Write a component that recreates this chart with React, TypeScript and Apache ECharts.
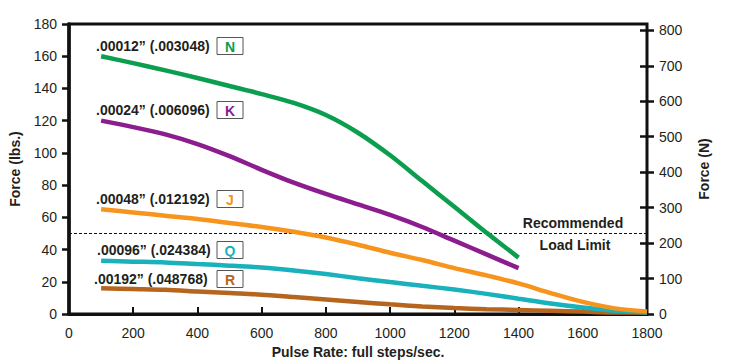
import React, { useEffect, useRef } from "react";
import * as echarts from "echarts";

const xTicks = [0, 200, 400, 600, 800, 1000, 1200, 1400, 1600, 1800];
const rightTicks = [0, 100, 200, 300, 400, 500, 600, 700, 800];

const pulseN = [100, 200, 300, 400, 500, 600, 700, 800, 900, 1000, 1100, 1200, 1300, 1400];
const forceN = [160, 155.7, 151.2, 146.5, 141.5, 136.5, 131, 123.5, 112.5, 98.5, 82.5, 66.5, 50.5, 35];

const pulseK = [100, 200, 300, 400, 500, 600, 700, 800, 900, 1000, 1100, 1200, 1300, 1400];
const forceK = [120, 116, 111.5, 105.5, 98, 89.5, 81.5, 74.5, 68, 61.5, 54, 45.5, 37, 28.5];

const pulseJ = [100, 200, 300, 400, 500, 600, 700, 800, 900, 1000, 1100, 1200, 1300, 1400, 1500, 1600, 1700, 1800];
const forceJ = [65, 63, 61, 59, 56.5, 54, 51, 47.5, 43, 38, 33.5, 28.5, 24, 19, 13, 7.5, 3.5, 1.5];

const pulseQ = [100, 200, 300, 400, 500, 600, 700, 800, 900, 1000, 1100, 1200, 1300, 1400, 1500, 1600, 1700, 1800];
const forceQ = [33, 32.5, 32, 31, 30, 28.8, 27, 24.8, 22.2, 19.8, 17.5, 15.2, 12.5, 9.5, 6.5, 4, 2, 1];

const pulseR = [100, 200, 300, 400, 500, 600, 700, 800, 900, 1000, 1100, 1200, 1300, 1400, 1500, 1600, 1700, 1800];
const forceR = [16, 15.5, 15, 14, 13, 12, 10.5, 9, 7.5, 6, 4.7, 3.7, 3, 2.5, 2, 1.5, 1, 1];

const loadLimit = 50;

const curveLabels = [
  { text: ".00012\u201D (.003048)", letter: "N", color: "#0b9e4f", y: 46, x: 96 },
  { text: ".00024\u201D (.006096)", letter: "K", color: "#8c1d8e", y: 110, x: 96 },
  { text: ".00048\u201D (.012192)", letter: "J", color: "#f5921e", y: 199, x: 96 },
  { text: ".00096\u201D (.024384)", letter: "Q", color: "#19b1bb", y: 250, x: 97 },
  { text: ".00192\u201D (.048768)", letter: "R", color: "#b5651d", y: 279, x: 94 },
];

const TXT = "#231f20";
const FONT = "'Liberation Sans', Arial, Helvetica, sans-serif";

function zip(xs: number[], ys: number[]) {
  return xs.map((x, i) => [x, ys[i]]);
}

function centeredText(text: string, x: number, y: number, fill: string, align = "center") {
  return {
    type: "text",
    x,
    y,
    style: {
      text,
      fill,
      font: `bold 14px ${FONT}`,
      textAlign: align,
      textVerticalAlign: "middle",
      align,
      verticalAlign: "middle",
    },
  };
}

export default function App() {
  const ref = useRef<HTMLDivElement>(null);
  useEffect(() => {
    if (!ref.current) return;
    const chart = echarts.init(ref.current, undefined, { renderer: "svg" });

    const graphics: any[] = [];
    curveLabels.forEach((l) => {
      graphics.push(centeredText(l.text, l.x, l.y, TXT, "left"));
      graphics.push({
        type: "rect",
        shape: { x: 217, y: l.y - 8.5, width: 26, height: 17 },
        style: { fill: "#fff", stroke: "#555", lineWidth: 1 },
      });
      graphics.push(centeredText(l.letter, 230, l.y + 0.5, l.color));
    });
    graphics.push(centeredText("Recommended", 573, 223, TXT));
    graphics.push(centeredText("Load Limit", 575, 245, TXT));

    const lineSeries = (name: string, data: number[][], color: string, z: number) => ({
      name,
      type: "line",
      data,
      smooth: 0.3,
      showSymbol: false,
      symbol: "none",
      z,
      lineStyle: { color, width: 4.5 },
      silent: true,
    });

    const option: any = {
      animation: false,
      backgroundColor: "#fff",
      textStyle: { fontFamily: FONT },
      grid: {
        left: 65,
        right: 82,
        top: 24,
        bottom: 49,
        containLabel: false,
        show: true,
        borderColor: "#111",
        borderWidth: 3,
        backgroundColor: "transparent",
      },
      xAxis: [
        {
          type: "value",
          position: "bottom",
          min: 0,
          max: 1800,
          interval: 200,
          name: "Pulse Rate: full steps/sec.",
          nameLocation: "middle",
          nameGap: 31,
          nameTextStyle: { fontWeight: "bold", fontSize: 14, color: TXT, fontFamily: FONT },
          axisLine: { show: true, onZero: false, lineStyle: { color: "#111", width: 3 } },
          axisTick: { show: true, inside: true, length: 7, lineStyle: { color: "#111", width: 2 } },
          axisLabel: {
            fontSize: 14,
            color: TXT,
            margin: 12,
            fontFamily: FONT,
            customValues: xTicks,
            formatter: (v: number) => String(v),
          },
          splitLine: { show: false },
        },
      ],
      yAxis: [
        {
          type: "value",
          position: "left",
          min: 0,
          max: 180,
          interval: 20,
          name: "Force (lbs.)",
          nameLocation: "middle",
          nameGap: 47,
          nameTextStyle: { fontWeight: "bold", fontSize: 14, color: TXT, fontFamily: FONT },
          axisLine: { show: true, onZero: false, lineStyle: { color: "#111", width: 3.5 } },
          axisTick: { show: true, inside: false, length: 7, lineStyle: { color: "#111", width: 2.5 } },
          axisLabel: { fontSize: 14, color: TXT, margin: 12, fontFamily: FONT },
          splitLine: { show: false },
        },
        {
          type: "value",
          position: "right",
          offset: -7,
          min: 0,
          max: 818,
          name: "Force (N)",
          nameLocation: "middle",
          nameGap: 57,
          nameTextStyle: { fontWeight: "bold", fontSize: 14, color: TXT, fontFamily: FONT },
          axisLine: { show: false, onZero: false },
          axisTick: {
            show: true,
            inside: false,
            length: 14,
            lineStyle: { color: "#111", width: 2.5 },
            customValues: rightTicks,
          },
          axisLabel: { fontSize: 14, color: TXT, margin: 19, fontFamily: FONT, customValues: rightTicks },
          splitLine: { show: false },
        },
      ],
      series: [
        lineSeries("R", zip(pulseR, forceR), "#b5651d", 3),
        lineSeries("Q", zip(pulseQ, forceQ), "#19b1bb", 4),
        lineSeries("J", zip(pulseJ, forceJ), "#f7941d", 5),
        lineSeries("K", zip(pulseK, forceK), "#8c1d8e", 6),
        {
          ...lineSeries("N", zip(pulseN, forceN), "#0b9e4f", 7),
          markLine: {
            silent: true,
            symbol: ["none", "none"],
            label: { show: false },
            lineStyle: { color: "#111", type: [3, 2], width: 1 },
            data: [{ yAxis: loadLimit }],
            z: 2,
          },
        },
      ],
      graphic: graphics,
    };

    chart.setOption(option);
    return () => chart.dispose();
  }, []);

  return (
    <div
      ref={ref}
      style={{ position: "absolute", left: 0, top: 0, width: 729, height: 364, background: "#fff" }}
    />
  );
}
